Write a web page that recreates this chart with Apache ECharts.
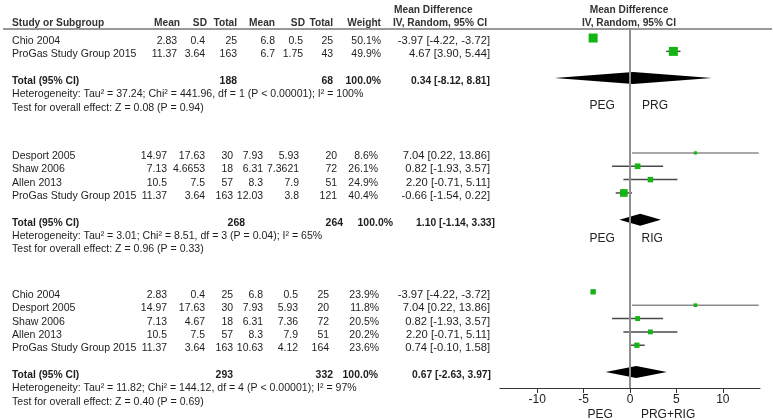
<!DOCTYPE html>
<html><head><meta charset="utf-8">
<script src="https://cdn.jsdelivr.net/npm/echarts@6/dist/echarts.min.js"></script>
<style>html,body{margin:0;padding:0;background:#fff}#c{width:773px;height:420px}</style>
</head><body><div id="c"></div>
<script>
// ---------------- data ----------------
const g1Studies = ['Chio 2004', 'ProGas Study Group 2015'];
const g1ExpMean = [2.83, 11.37];
const g1ExpSD = [0.4, 3.64];
const g1ExpN = [25, 163];
const g1CtlMean = [6.8, 6.7];
const g1CtlSD = [0.5, 1.75];
const g1CtlN = [25, 43];
const g1Weight = [50.1, 49.9];
const g1MD = [-3.97, 4.67];
const g1Lo = [-4.22, 3.90];
const g1Hi = [-3.72, 5.44];
const g1TotalN = [188, 68];
const g1Total = [0.34, -8.12, 8.81];
const g1Het = 'Heterogeneity: Tau² = 37.24; Chi² = 441.96, df = 1 (P < 0.00001); I² = 100%';
const g1Test = 'Test for overall effect: Z = 0.08 (P = 0.94)';
const g1Dir = ['PEG', 'PRG'];

const g2Studies = ['Desport 2005', 'Shaw 2006', 'Allen 2013', 'ProGas Study Group 2015'];
const g2ExpMean = [14.97, 7.13, 10.5, 11.37];
const g2ExpSD = [17.63, 4.6653, 7.5, 3.64];
const g2ExpN = [30, 18, 57, 163];
const g2CtlMean = [7.93, 6.31, 8.3, 12.03];
const g2CtlSD = [5.93, 7.3621, 7.9, 3.8];
const g2CtlN = [20, 72, 51, 121];
const g2Weight = [8.6, 26.1, 24.9, 40.4];
const g2MD = [7.04, 0.82, 2.20, -0.66];
const g2Lo = [0.22, -1.93, -0.71, -1.54];
const g2Hi = [13.86, 3.57, 5.11, 0.22];
const g2TotalN = [268, 264];
const g2Total = [1.10, -1.14, 3.33];
const g2Het = 'Heterogeneity: Tau² = 3.01; Chi² = 8.51, df = 3 (P = 0.04); I² = 65%';
const g2Test = 'Test for overall effect: Z = 0.96 (P = 0.33)';
const g2Dir = ['PEG', 'RIG'];

const g3Studies = ['Chio 2004', 'Desport 2005', 'Shaw 2006', 'Allen 2013', 'ProGas Study Group 2015'];
const g3ExpMean = [2.83, 14.97, 7.13, 10.5, 11.37];
const g3ExpSD = [0.4, 17.63, 4.67, 7.5, 3.64];
const g3ExpN = [25, 30, 18, 57, 163];
const g3CtlMean = [6.8, 7.93, 6.31, 8.3, 10.63];
const g3CtlSD = [0.5, 5.93, 7.36, 7.9, 4.12];
const g3CtlN = [25, 20, 72, 51, 164];
const g3Weight = [23.9, 11.8, 20.5, 20.2, 23.6];
const g3MD = [-3.97, 7.04, 0.82, 2.20, 0.74];
const g3Lo = [-4.22, 0.22, -1.93, -0.71, -0.10];
const g3Hi = [-3.72, 13.86, 3.57, 5.11, 1.58];
const g3TotalN = [293, 332];
const g3Total = [0.67, -2.63, 3.97];
const g3Het = 'Heterogeneity: Tau² = 11.82; Chi² = 144.12, df = 4 (P < 0.00001); I² = 97%';
const g3Test = 'Test for overall effect: Z = 0.40 (P = 0.69)';
const g3Dir = ['PEG', 'PRG+RIG'];

const xTicks = [-10, -5, 0, 5, 10];
const headers = ['Study or Subgroup', 'Mean', 'SD', 'Total', 'Mean', 'SD', 'Total', 'Weight'];
const mdHeader = ['Mean Difference', 'IV, Random, 95% CI'];

// ---------------- layout (not data) ----------------
const FONT = 'Liberation Sans, Arial, sans-serif';
const FS = 11;
const SX_NUM = 0.95, SX_TXT = 0.96, SX_HDR = 0.925, SX_BOLD = 0.935, SX_MD = 1.02;
const groups = [
  { start: 0, studies: g1Studies, em: g1ExpMean, es: g1ExpSD, en: g1ExpN, cm: g1CtlMean, cs: g1CtlSD, cn: g1CtlN,
    w: g1Weight, md: g1MD, lo: g1Lo, hi: g1Hi, tn: g1TotalN, tot: g1Total, het: g1Het, test: g1Test, dir: g1Dir,
    cols: [177, 205, 237, 275, 303, 333, 381, 490], totCols: [237, 333, 381, 490],
    dirRow: 5.1, dirX: [-3.0, 2.7] },
  { start: 8.6, studies: g2Studies, em: g2ExpMean, es: g2ExpSD, en: g2ExpN, cm: g2CtlMean, cs: g2CtlSD, cn: g2CtlN,
    w: g2Weight, md: g2MD, lo: g2Lo, hi: g2Hi, tn: g2TotalN, tot: g2Total, het: g2Het, test: g2Test, dir: g2Dir,
    cols: [167, 205, 233, 263, 299, 337, 378, 490], totCols: [245, 343, 393, 495],
    dirRow: 15.05, dirX: [-3.0, 2.4] },
  { start: 19, studies: g3Studies, em: g3ExpMean, es: g3ExpSD, en: g3ExpN, cm: g3CtlMean, cs: g3CtlSD, cn: g3CtlN,
    w: g3Weight, md: g3MD, lo: g3Lo, hi: g3Hi, tn: g3TotalN, tot: g3Total, het: g3Het, test: g3Test, dir: g3Dir,
    cols: [167, 205, 233, 263, 298, 329, 379, 490], totCols: [233, 333, 378, 491],
    dirRow: 28.2, dirX: [-3.2, 4.1] }
];

const studyData = [];
const diamondData = [];
groups.forEach(g => {
  g.studies.forEach((s, i) => {
    studyData.push([g.md[i], g.lo[i], g.hi[i], g.start + i, g.w[i]]);
  });
  diamondData.push([g.tot[0], g.tot[1], g.tot[2], g.start + g.studies.length + 1]);
});

const chart = echarts.init(document.getElementById('c'), null, { renderer: 'canvas' });

const option = {
  animation: false,
  backgroundColor: '#fff',
  grid: { left: 500, right: 13, top: 28, bottom: 32 },
  xAxis: {
    type: 'value', min: -14, max: 14,
    splitLine: { show: false },
    axisLine: { show: true, onZero: false, lineStyle: { color: '#333', width: 1 } },
    axisTick: { show: true, customValues: xTicks, length: 5, lineStyle: { color: '#333' } },
    axisLabel: { customValues: xTicks, fontSize: 12, color: '#222', margin: 6, fontFamily: FONT }
  },
  yAxis: { type: 'value', inverse: true, min: -0.75, max: 26.2, show: false },
  series: [
    {
      type: 'custom', name: 'studies', data: studyData,
      encode: { x: [0, 1, 2], y: 3 },
      renderItem: function (params, api) {
        const row = api.value(3);
        const pLo = api.coord([api.value(1), row]);
        const pHi = api.coord([api.value(2), row]);
        const pMd = api.coord([api.value(0), row]);
        const s = 2 + 0.14 * api.value(4);
        const wide = api.value(2) - api.value(1) > 10;
        return { type: 'group', children: [
          { type: 'line', shape: { x1: pLo[0], y1: pMd[1], x2: pHi[0], y2: pMd[1] },
            style: { stroke: wide ? '#8c8c8c' : '#4a4a4a', lineWidth: 1.5 } },
          { type: 'rect', shape: { x: pMd[0] - s / 2, y: pMd[1] - s / 2, width: s, height: s },
            style: { fill: '#14b414' } }
        ]};
      },
      markLine: {
        silent: true, symbol: ['none', 'none'], label: { show: false },
        lineStyle: { color: '#8f8f8f', width: 2, type: 'solid' },
        data: [{ xAxis: 0 }]
      },
      z: 3
    },
    {
      type: 'custom', name: 'totals', data: diamondData,
      encode: { x: [0, 1, 2], y: 3 },
      renderItem: function (params, api) {
        const row = api.value(3);
        const pLo = api.coord([api.value(1), row]);
        const pHi = api.coord([api.value(2), row]);
        const pMd = api.coord([api.value(0), row]);
        const h = 6;
        return { type: 'polygon',
          shape: { points: [[pLo[0], pMd[1]], [pMd[0], pMd[1] - h], [pHi[0], pMd[1]], [pMd[0], pMd[1] + h]] },
          style: { fill: '#000' } };
      },
      z: 4
    }
  ]
};
chart.setOption(option);

// map row -> pixel using the axis scale
const y0 = chart.convertToPixel({ yAxisIndex: 0 }, 0);
const y1 = chart.convertToPixel({ yAxisIndex: 0 }, 1);
const rowPx = r => y0 + r * (y1 - y0);
const xPx = v => chart.convertToPixel({ xAxisIndex: 0 }, v);

const TXT = '#1e1e1e';
const graphics = [];
function txt(text, x, y, align, bold, size, color, sx) {
  graphics.push({
    type: 'text', x: x, y: y, scaleX: sx || 1, silent: true,
    style: {
      text: String(text), fill: color || TXT, x: 0, y: 0,
      font: (bold ? 'bold ' : '') + (size || FS) + 'px ' + FONT,
      textAlign: align || 'left', textVerticalAlign: 'middle',
      align: align || 'left', verticalAlign: 'middle'
    }
  });
}
const f2 = v => v.toFixed(2);
const ci = (m, l, h) => f2(m) + ' [' + f2(l) + ', ' + f2(h) + ']';

// header
graphics.push({ type: 'line', shape: { x1: 3, y1: 29, x2: 772, y2: 29 }, style: { stroke: '#333', lineWidth: 1 }, silent: true });
const hdrX = [12, 180, 207, 237, 275, 305, 333, 381];
headers.forEach((h, i) => txt(h, hdrX[i], 23, i === 0 ? 'left' : 'right', true, FS, '#333', SX_HDR));
txt(mdHeader[0], 394, 10, 'left', true, FS, '#333', SX_HDR);
txt(mdHeader[1], 393, 23, 'left', true, FS, '#333', SX_HDR);
txt(mdHeader[0], 629, 10, 'center', true, FS, '#333', SX_HDR);
txt(mdHeader[1], 629, 23, 'center', true, FS, '#333', SX_HDR);

const TOFF = 3;
groups.forEach(g => {
  g.studies.forEach((s, i) => {
    const y = rowPx(g.start + i) + TOFF;
    txt(s, 12, y, 'left', false, FS, TXT, SX_TXT);
    const vals = [g.em[i], g.es[i], g.en[i], g.cm[i], g.cs[i], g.cn[i], g.w[i].toFixed(1) + '%'];
    vals.forEach((v, k) => txt(v, g.cols[k], y, 'right', false, FS, TXT, SX_NUM));
    txt(ci(g.md[i], g.lo[i], g.hi[i]), g.cols[7], y, 'right', false, FS, TXT, SX_MD);
  });
  const n = g.studies.length;
  const yt = rowPx(g.start + n + 1) + TOFF;
  txt('Total (95% CI)', 12, yt, 'left', true, FS, TXT, SX_BOLD);
  txt(g.tn[0], g.totCols[0], yt, 'right', true, FS, TXT, SX_NUM);
  txt(g.tn[1], g.totCols[1], yt, 'right', true, FS, TXT, SX_NUM);
  txt('100.0%', g.totCols[2], yt, 'right', true, FS, TXT, SX_NUM);
  txt(ci(g.tot[0], g.tot[1], g.tot[2]), g.totCols[3], yt, 'right', true, FS, TXT, SX_BOLD);
  txt(g.het, 12, rowPx(g.start + n + 2) + TOFF, 'left', false, FS, TXT, SX_TXT);
  txt(g.test, 12, rowPx(g.start + n + 3) + TOFF, 'left', false, FS, TXT, SX_TXT);
  const yd = rowPx(g.dirRow);
  txt(g.dir[0], xPx(g.dirX[0]), yd, 'center', false, 12, '#222');
  txt(g.dir[1], xPx(g.dirX[1]), yd, 'center', false, 12, '#222');
});

chart.setOption({ graphic: { elements: graphics } });
</script>
</body></html>
